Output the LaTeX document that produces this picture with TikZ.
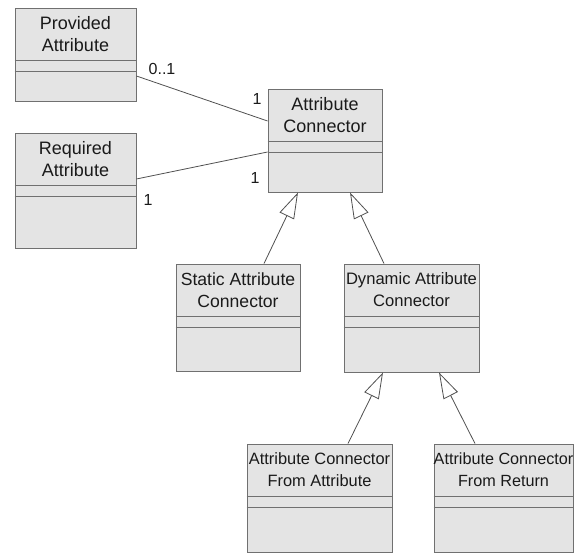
\documentclass[tikz,border=0pt]{standalone}
\usepackage{fontspec}
\setmainfont{Liberation Sans}
\usetikzlibrary{fit,arrows.meta}
\definecolor{boxfill}{HTML}{E4E4E4}
\definecolor{boxline}{HTML}{707070}
\definecolor{conline}{HTML}{505050}
\definecolor{txt}{HTML}{1A1A1A}
\tikzset{
  classbox/.style={draw=boxline, fill=boxfill, line width=0.9pt, inner sep=0pt},
  divider/.style={draw=boxline, line width=0.9pt},
  classtext/.style={align=center, text=txt, inner sep=0pt},
  mult/.style={text=txt, inner sep=0pt, font=\fontsize{16}{18}\selectfont},
  assoc/.style={draw=conline, line width=0.8pt},
  gener/.style={draw=conline, line width=0.8pt, -{Triangle[open, fill=white, length=26pt, width=16pt, line width=0.8pt]}}
}
% [font size], name, x1, y1, x2, y2, text
\newcommand\umlclass[7][18]{%
  \node[classbox, fit={(#3,#4) (#5,#6)}] (#2) {};
  \node[classtext, font=\fontsize{#1}{22}\selectfont] (#2-t) at ({(#3+#5)/2},{#4+26}) {#7};
  \draw[divider] (#2.west |- 0,{#4+52}) -- (#2.east |- 0,{#4+52});
  \draw[divider] (#2.west |- 0,{#4+63}) -- (#2.east |- 0,{#4+63});
}
\begin{document}
\begin{tikzpicture}[x=1pt,y=-1pt]
\useasboundingbox (0,0) rectangle (575,553);
\umlclass{pa}{15}{8}{136}{101}{Provided\\Attribute}
\umlclass{ra}{15}{133}{136}{248}{Required\\Attribute}
\umlclass{ac}{268}{89}{382}{192}{Attribute\\Connector}
\umlclass[17.6]{sac}{176}{264}{300}{371}{Static Attribute\\Connector}
\umlclass[16.6]{dac}{344}{264}{479}{372}{Dynamic Attribute\\Connector}
\umlclass[16.4]{fa}{247}{444}{392}{552}{Attribute Connector\\From Attribute}
\umlclass[16.2]{fr}{434}{444}{573}{552}{Attribute Connector\\From Return}
% associations
\draw[assoc] (pa.east |- 0,76) -- (ac.west |- 0,121);
\draw[assoc] (ra.east |- 0,179) -- (ac.west |- 0,152);
\node[mult] (m1) at (162,69) {0..1};
\node[mult] (m2) at (257,99) {1};
\node[mult] (m3) at (255,178) {1};
\node[mult] (m4) at (148,200) {1};
% generalizations
\draw[gener] (264,0 |- sac.north) -- (298,0 |- ac.south);
\draw[gener] (384,0 |- dac.north) -- (350,0 |- ac.south);
\draw[gener] (348,0 |- fa.north) -- (383,0 |- dac.south);
\draw[gener] (475,0 |- fr.north) -- (439,0 |- dac.south);
\end{tikzpicture}
\end{document}
